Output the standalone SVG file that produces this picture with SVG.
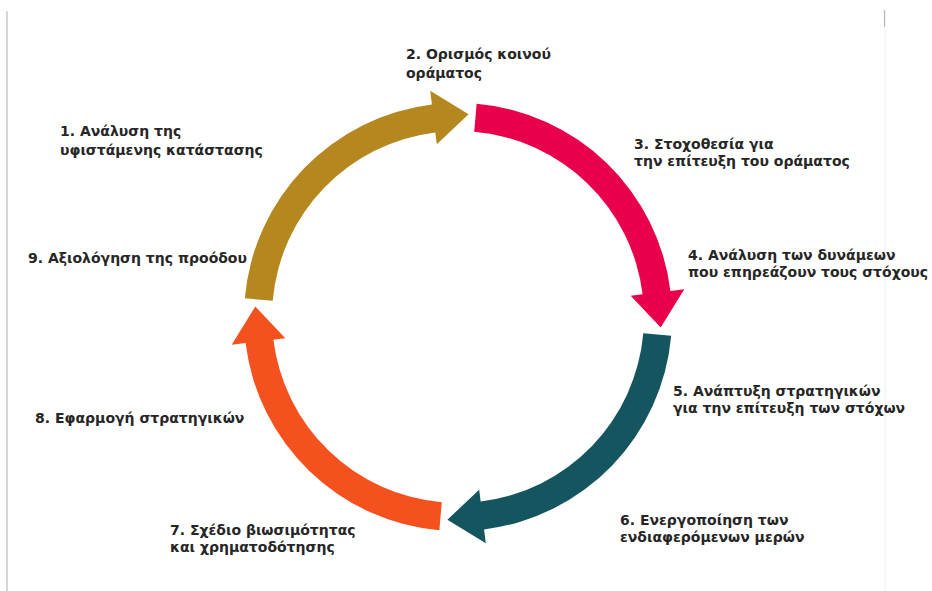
<svg xmlns="http://www.w3.org/2000/svg" xmlns:xlink="http://www.w3.org/1999/xlink" width="932" height="591" viewBox="0 0 932 591">
  <style>
    .lbl { font-family: "DejaVu Sans", Verdana, sans-serif; font-weight: bold; font-size: 14px; fill: #262626; }
    .frame { stroke: #c8c8c8; stroke-width: 1.5; fill: none; }
    .faint { stroke: #efefef; stroke-width: 1; fill: none; }
  </style>
  <defs>
    <path id="arc-arrow" d="M244.82,298.35 A214,214 0 0 1 431.92,104.59 L430.21,90.70 L468.6,114.3 L436.79,144.30 L435.33,132.39 A186,186 0 0 0 272.71,300.79 Z"/>
  </defs>
  <rect x="0" y="0" width="932" height="591" fill="#ffffff"/>
  <g id="frame">
    <line class="frame" x1="7" y1="11" x2="7" y2="591"/>
    <line class="faint" x1="885" y1="10" x2="885" y2="591"/>
    <line x1="884.5" y1="10" x2="884.5" y2="27" stroke="#b8b8b8" stroke-width="1.2"/>
  </g>
  <g id="connectors">
    <use xlink:href="#arc-arrow" href="#arc-arrow" fill="#B5871F"/>
    <use xlink:href="#arc-arrow" href="#arc-arrow" fill="#E9004B" transform="rotate(90 458 317)"/>
    <use xlink:href="#arc-arrow" href="#arc-arrow" fill="#14555F" transform="rotate(180 458 317)"/>
    <use xlink:href="#arc-arrow" href="#arc-arrow" fill="#F4511E" transform="rotate(270 458 317)"/>
  </g>
  <g id="step1"><text class="lbl" x="60" y="136">1. Ανάλυση της</text><text class="lbl" x="60" y="155">υφιστάμενης κατάστασης</text></g>
  <g id="step2"><text class="lbl" x="406" y="59">2. Ορισμός κοινού</text><text class="lbl" x="406" y="78">οράματος</text></g>
  <g id="step3"><text class="lbl" x="634" y="149">3. Στοχοθεσία για</text><text class="lbl" x="634" y="166">την επίτευξη του οράματος</text></g>
  <g id="step4"><text class="lbl" x="688" y="260">4. Ανάλυση των δυνάμεων</text><text class="lbl" x="688" y="277">που επηρεάζουν τους στόχους</text></g>
  <g id="step5"><text class="lbl" x="673" y="396">5. Ανάπτυξη στρατηγικών</text><text class="lbl" x="673" y="413">για την επίτευξη των στόχων</text></g>
  <g id="step6"><text class="lbl" x="620" y="525">6. Ενεργοποίηση των</text><text class="lbl" x="620" y="542">ενδιαφερόμενων μερών</text></g>
  <g id="step7"><text class="lbl" x="170" y="535">7. Σχέδιο βιωσιμότητας</text><text class="lbl" x="170" y="552">και χρηματοδότησης</text></g>
  <g id="step8"><text class="lbl" x="35" y="423">8. Εφαρμογή στρατηγικών</text></g>
  <g id="step9"><text class="lbl" x="28" y="263">9. Αξιολόγηση της προόδου</text></g>
</svg>
